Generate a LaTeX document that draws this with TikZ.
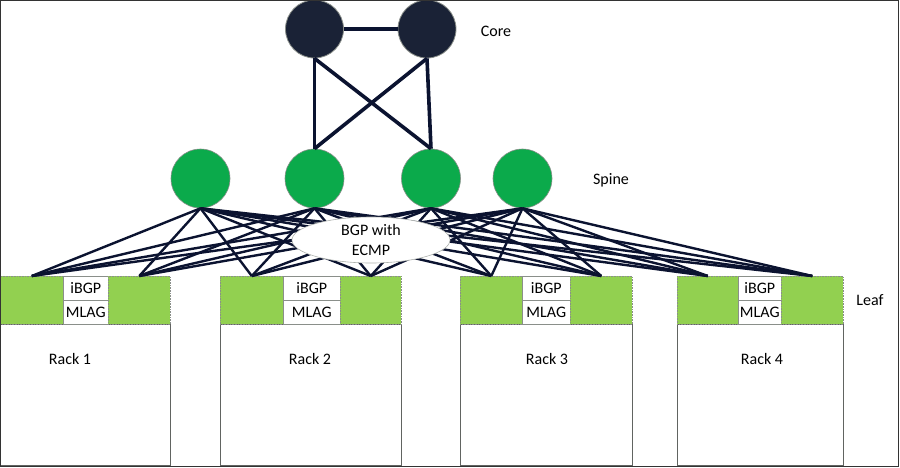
\documentclass[tikz,border=0pt]{standalone}
\usepackage{fontspec}
\setmainfont{Carlito}
\usetikzlibrary{shapes.geometric}
\definecolor{linec}{HTML}{0B1330}
\definecolor{corec}{HTML}{1A2236}
\definecolor{spinec}{HTML}{0BAA4B}
\definecolor{leafc}{HTML}{92D050}
\definecolor{bordc}{HTML}{8A8F8A}
\begin{document}
\begin{tikzpicture}[x=1pt,y=-1pt,
  every node/.style={font=\fontsize{16}{19}\selectfont, text=black},
  corenode/.style={circle, fill=corec, draw=bordc, line width=0.8pt, minimum size=58pt, inner sep=0pt},
  spinenode/.style={circle, fill=spinec, draw=bordc, line width=0.6pt, minimum size=59pt, inner sep=0pt},
  leafbox/.style={rectangle, fill=leafc, draw=bordc, densely dotted, line width=0.6pt, minimum height=48pt, anchor=north west, inner sep=0pt},
  cellbox/.style={rectangle, fill=white, draw=bordc, line width=0.6pt, minimum height=24pt, anchor=north west, inner sep=0pt},
  rackbox/.style={rectangle, fill=white, draw=bordc!70!black, line width=0.8pt, minimum height=141pt, anchor=north west, inner sep=0pt},
  link/.style={draw=linec, line width=2.4pt},
  corelink/.style={draw=linec, line width=3.6pt},
  lbl/.style={inner sep=0pt}
]
\useasboundingbox (0,0) rectangle (900,467);
\fill[white] (0,0) rectangle (900,467);

% racks
\node[rackbox, minimum width=170pt] (r1) at (0,324) {};
\node[rackbox, minimum width=181pt] (r2) at (220,324) {};
\node[rackbox, minimum width=172pt] (r3) at (460,324) {};
\node[rackbox, minimum width=166pt] (r4) at (677,324) {};

% MLAG cells
\node[cellbox, minimum width=45pt] (i1) at (63,276) {};
\node[cellbox, minimum width=45pt] (m1) at (63,300) {};
\node[cellbox, minimum width=57pt] (i2) at (283,276) {};
\node[cellbox, minimum width=57pt] (m2) at (283,300) {};
\node[cellbox, minimum width=48pt] (i3) at (522,276) {};
\node[cellbox, minimum width=48pt] (m3) at (522,300) {};
\node[cellbox, minimum width=43pt] (i4) at (738,276) {};
\node[cellbox, minimum width=43pt] (m4) at (738,300) {};

% leaf switches
\node[leafbox, minimum width=63pt] (l1) at (0,276) {};
\node[leafbox, minimum width=62pt] (l2) at (108,276) {};
\node[leafbox, minimum width=63pt] (l3) at (220,276) {};
\node[leafbox, minimum width=61pt] (l4) at (340,276) {};
\node[leafbox, minimum width=62pt] (l5) at (460,276) {};
\node[leafbox, minimum width=62pt] (l6) at (570,276) {};
\node[leafbox, minimum width=61pt] (l7) at (677,276) {};
\node[leafbox, minimum width=62pt] (l8) at (781,276) {};

% spines and cores
\node[spinenode] (s1) at (200.5,178.5) {};
\node[spinenode] (s2) at (314.5,178.5) {};
\node[spinenode] (s3) at (431,178.5) {};
\node[spinenode] (s4) at (522.5,178.5) {};
\node[corenode] (c1) at (314.5,29) {};
\node[corenode] (c2) at (427,29) {};

% core links
\draw[corelink] (c1) -- (c2);
\draw[corelink] (c1.south) -- (s2.north);
\draw[corelink] (c1.south) -- (s3.north);
\draw[corelink] (c2.south) -- (s2.north);
\draw[corelink] (c2.south) -- (s3.north);

% spine-leaf links
\foreach \s in {s1,s2,s3,s4}{
  \foreach \l in {l1,l2,l3,l4,l5,l6,l7,l8}{
    \draw[link] (\s.south) -- (\l.north);
  }
}

% BGP ellipse
\node[ellipse, fill=white, draw=bordc!70, line width=0.6pt, minimum width=158pt, minimum height=46pt, inner sep=0pt, align=center, font=\fontsize{16}{20}\selectfont] (bgp) at (371,240) {BGP with\\ECMP};

% cell labels
\foreach \n in {1,2,3,4}{
  \node[lbl] (ti\n) at (i\n.center) {iBGP};
  \node[lbl] (tm\n) at (m\n.center) {MLAG};
}

% rack labels
\node[lbl] (tr1) at (70,359) {Rack 1};
\node[lbl] (tr2) at (310,359) {Rack 2};
\node[lbl] (tr3) at (547,359) {Rack 3};
\node[lbl] (tr4) at (762,359) {Rack 4};

% tier labels
\node[lbl] (tcore) at (496,31) {Core};
\node[lbl] (tspine) at (611,180) {Spine};
\node[lbl] (tleaf) at (870,300) {Leaf};

% frame
\draw[draw=black!80, line width=1.2pt] (0.6,0.6) rectangle (898.4,466.2);
\end{tikzpicture}
\end{document}
